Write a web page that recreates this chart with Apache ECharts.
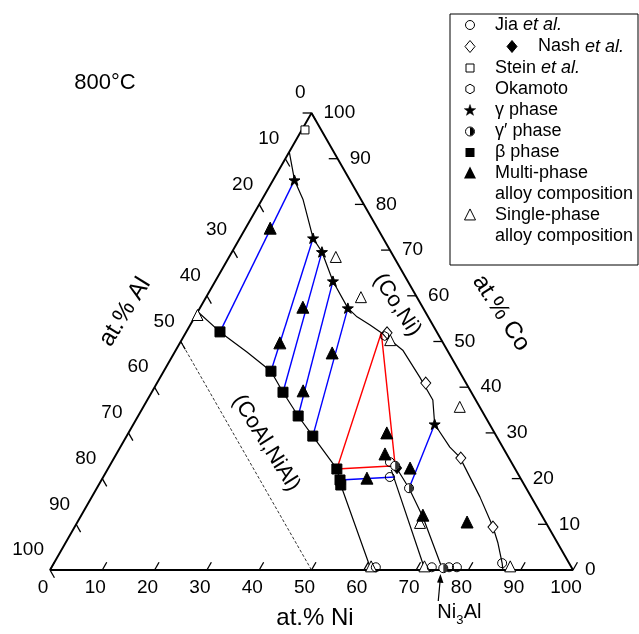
<!DOCTYPE html>
<html>
<head>
<meta charset="utf-8">
<script src="https://cdn.jsdelivr.net/npm/echarts@6/dist/echarts.min.js"></script>
<style>
  html, body { margin: 0; padding: 0; background: #fff; }
  #chart { width: 639px; height: 634px; }
</style>
</head>
<body>
<div id="chart"></div>
<script>
// Co-Ni-Al isothermal section at 800 °C.
// Every composition is written as [at.% Ni, at.% Co]; at.% Al is the remainder.

const tickValues = [0, 10, 20, 30, 40, 50, 60, 70, 80, 90, 100];
const frameVertices = [[0, 0], [100, 0], [0, 100]];
const ni3AlNi = 75;

// phase boundaries
const gammaBoundary = [[0, 91.5], [4.1, 85.3], [7.9, 81.0], [14.0, 72.6], [17.2, 69.6], [22.5, 63.2],
  [28.3, 57.3], [31.0, 55.4], [34.4, 53.6], [37.4, 51.9], [43.4, 48.1], [49.6, 42.2], [54.6, 37.2],
  [57.6, 31.9], [63.0, 26.9], [66.0, 24.7], [74.2, 16.0], [80.0, 9.4], [82.7, 5.9], [85.7, 1.5], [86.6, 0]];
const betaBoundary = [[0, 56.5], [6.45, 52.1], [13.8, 47.7], [20.5, 43.5], [25.1, 38.9], [30.6, 33.7],
  [35.6, 29.3], [42.1, 23.6], [43.8, 22.1], [45.6, 19.7], [46.3, 18.6], [61.4, 0]];
const gammaPrimeLeft = [[54.3, 21.9], [71.7, 0]];
const gammaPrimeRight = [[54.6, 22.8], [59.7, 17.9], [65.5, 11.6], [75.1, 0]];
const equiAl50 = [[0, 50], [50, 0]];

// three-phase triangle beta + gamma + gamma'
const threePhase = [[43.8, 22.1], [37.4, 51.9], [54.6, 22.8]];

// tie lines
const tieLines = [
  [[6.45, 52.1], [4.1, 85.3]],
  [[20.5, 43.5], [14.0, 72.6]],
  [[25.1, 38.9], [17.2, 69.6]],
  [[30.6, 33.7], [22.5, 63.2]],
  [[35.6, 29.3], [28.3, 57.3]],
  [[45.6, 19.7], [55.8, 20.35]],
  [[59.7, 17.9], [57.6, 31.9]]
];

// measured phase compositions
const gammaPhase = [[4.1, 85.3], [14.0, 72.6], [17.2, 69.6], [22.5, 63.2], [28.3, 57.3], [57.6, 31.9]];
const gammaPrimePhase = [[59.7, 17.9], [54.6, 22.8], [75.0, 0.4]];
const betaPhase = [[6.45, 52.1], [20.5, 43.5], [25.1, 38.9], [30.6, 33.7], [35.6, 29.3],
  [43.8, 22.1], [45.6, 19.7], [46.3, 18.6]];

// alloy compositions
const multiPhaseAlloys = [[4.7, 74.8], [19.6, 57.5], [19.1, 49.7], [30.2, 47.5], [28.8, 39.2],
  [49.4, 30.0], [51.35, 25.4], [50.55, 20.1], [57.7, 22.3], [65.3, 12.0], [74.5, 10.5]];
const singlePhaseAlloys = [[20.4, 68.5], [29.6, 59.7], [39.9, 50.3], [60.5, 35.7], [65.6, 10.3],
  [0.3, 55.8], [61.0, 0.8], [71.2, 0.8], [87.6, 0.8]];

// literature data
const jiaData = [[62.0, 0.6], [72.7, 0.6], [76.0, 0.6], [77.5, 0.6], [85.7, 1.5], [53.2, 23.6], [54.8, 20.35]];
const nashOpen = [[38.5, 51.9], [51.4, 40.9], [66.3, 24.5], [80.0, 9.4]];
const nashFilled = [[55.2, 22.3]];
const steinData = [[0.6, 96.3]];
const okamotoData = [[38.4, 51.2]];

// ---------------------------------------------------------------------------
const FONT = '"Liberation Sans", Arial, sans-serif';

// ternary -> cartesian (x along Ni axis, y = Co)
function tern(p) { return [p[0] + p[1] / 2, p[1]]; }
function ternList(list) { return list.map(tern); }

function starPoints(cx, cy, R, r) {
  const pts = [];
  for (let k = 0; k < 10; k++) {
    const a = -Math.PI / 2 + k * Math.PI / 5;
    const rad = k % 2 === 0 ? R : r;
    pts.push([cx + rad * Math.cos(a), cy + rad * Math.sin(a)]);
  }
  return pts;
}
function hexPoints(cx, cy, R) {
  const pts = [];
  for (let k = 0; k < 6; k++) {
    const a = -Math.PI / 2 + k * Math.PI / 3;
    pts.push([cx + R * Math.cos(a), cy + R * Math.sin(a)]);
  }
  return pts;
}
function toPath(pts) {
  return 'path://' + pts.map((p, i) => (i ? 'L' : 'M') + p[0].toFixed(2) + ',' + p[1].toFixed(2)).join(' ') + ' Z';
}
const STAR = toPath(starPoints(50, 50, 50, 20));
const HEX = toPath(hexPoints(50, 50, 50));
const HALF_DISK = 'path://M0,0 A50,50 0 0 1 0,100 Z';

const tickData = [];
[0, 1, 2].forEach(a => tickValues.forEach(v => tickData.push([a, v])));

function renderTick(params, api) {
  const axis = api.value(0), v = api.value(1);
  const L = 1.7;
  let base, end;
  if (axis === 0) { base = [v, 0]; end = [v, L]; }
  else if (axis === 1) { base = [100 - v, v]; end = [100 - v - L, v]; }
  else { base = [0, 100 - v]; end = [L, 100 - v - L]; }
  const p0 = api.coord(tern(base));
  const p1 = api.coord(tern(end));
  let lx, ly, align;
  if (axis === 0) { lx = p0[0] - 7; ly = p0[1] + 18; align = 'center'; }
  else if (axis === 1) { lx = p0[0] + 12; ly = p0[1]; align = 'left'; }
  else { lx = p0[0] - 6; ly = p0[1] - 20; align = 'right'; }
  return {
    type: 'group',
    children: [
      { type: 'line', shape: { x1: p0[0], y1: p0[1], x2: p1[0], y2: p1[1] },
        style: { stroke: '#000', lineWidth: 1.3 } },
      { type: 'text', x: lx, y: ly,
        style: { text: String(v), textAlign: align, textVerticalAlign: 'middle',
                 fill: '#000', font: '19px ' + FONT } }
    ]
  };
}

function lineSeries(data, color, width, type, z) {
  return {
    type: 'line', data: ternList(data), symbol: 'none', clip: false, silent: true, z: z || 3,
    lineStyle: { color: color, width: width, type: type || 'solid' }
  };
}
function markerSeries(data, symbol, size, fill, border, z, extra) {
  return Object.assign({
    type: 'scatter', data: ternList(data), symbol: symbol, symbolSize: size, clip: false, z: z || 10,
    symbolKeepAspect: true,
    itemStyle: { color: fill, borderColor: border, borderWidth: 1, opacity: 1 }
  }, extra || {});
}

const chart = echarts.init(document.getElementById('chart'), null, { renderer: 'canvas' });

const frame = frameVertices.concat([frameVertices[0]]);

chart.setOption({
  animation: false,
  backgroundColor: '#fff',
  grid: { left: 50, top: 113, width: 523, height: 457 },
  xAxis: { type: 'value', min: 0, max: 100, show: false },
  yAxis: { type: 'value', min: 0, max: 100, show: false },
  series: [
    lineSeries(equiAl50, '#000', 0.8, [3, 2], 2),
    lineSeries(gammaBoundary, '#000', 1.2),
    lineSeries(betaBoundary, '#000', 1.2),
    lineSeries(gammaPrimeLeft, '#000', 1.2),
    lineSeries(gammaPrimeRight, '#000', 1.2),
    {
      type: 'lines', coordinateSystem: 'cartesian2d', silent: true, z: 4,
      lineStyle: { color: '#0000ff', width: 1.4, opacity: 1 },
      data: tieLines.map(t => ({ coords: ternList(t) }))
    },
    lineSeries(threePhase.concat([threePhase[0]]), '#ff0000', 1.4, 'solid', 5),
    lineSeries(frame, '#000', 1.9, 'solid', 6),
    { type: 'custom', coordinateSystem: 'cartesian2d', data: tickData, renderItem: renderTick,
      clip: false, silent: true, z: 6 },
    markerSeries(singlePhaseAlloys, 'triangle', 11, '#fff', '#000', 10),
    markerSeries(jiaData, 'circle', 9, 'rgba(255,255,255,0)', '#000', 11),
    markerSeries(nashOpen, 'diamond', [10, 12], '#fff', '#000', 11),
    markerSeries(steinData, 'rect', 8, '#fff', '#000', 11),
    markerSeries(okamotoData, HEX, 9, 'rgba(255,255,255,0)', '#000', 11),
    markerSeries(betaPhase, 'rect', 10, '#000', '#000', 12),
    markerSeries(multiPhaseAlloys, 'triangle', 12, '#000', '#000', 12),
    markerSeries(gammaPhase, STAR, 11, '#000', '#000', 12),
    markerSeries(nashFilled, 'diamond', [9, 11], '#000', '#000', 12),
    markerSeries(gammaPrimePhase, 'circle', 9, '#fff', '#000', 13),
    markerSeries(gammaPrimePhase, HALF_DISK, [4, 8], '#000', '#000', 14,
      { symbolKeepAspect: false, symbolOffset: [2, 0], itemStyle: { color: '#000', borderWidth: 0 } })
  ]
});

// ---------------------------------------------------------------------------
// text annotations, legend and the Ni3Al pointer
const LX = 470, TX = 495;
const rowY = [25, 46.5, 68, 89, 110, 131.5, 152.5, 173, 194, 215, 236];
const textStyle = (t, size, extra) => Object.assign({
  text: t, fill: '#000', font: size + 'px ' + FONT
}, extra || {});
const italic = { i: { fontStyle: 'italic', fontSize: 18, fontFamily: FONT, fill: '#000' } };

function tri(cx, cy, s) { return [[cx, cy - s * 0.55], [cx + s / 2, cy + s * 0.45], [cx - s / 2, cy + s * 0.45]]; }

const legend = [
  { type: 'rect', shape: { x: 450, y: 14, width: 188, height: 251 },
    style: { fill: '#fff', stroke: '#000', lineWidth: 1 }, z: 20 },
  { type: 'circle', shape: { cx: LX, cy: rowY[0], r: 4.5 }, style: { fill: '#fff', stroke: '#000', lineWidth: 1 }, z: 21 },
  { type: 'polygon', shape: { points: [[LX, rowY[1] - 6], [LX + 5, rowY[1]], [LX, rowY[1] + 6], [LX - 5, rowY[1]]] },
    style: { fill: '#fff', stroke: '#000', lineWidth: 1 }, z: 21 },
  { type: 'polygon', shape: { points: [[512, rowY[1] - 6], [517, rowY[1]], [512, rowY[1] + 6], [507, rowY[1]]] },
    style: { fill: '#000', stroke: '#000', lineWidth: 1 }, z: 21 },
  { type: 'rect', shape: { x: LX - 4, y: rowY[2] - 4, width: 8, height: 8 },
    style: { fill: '#fff', stroke: '#000', lineWidth: 1 }, z: 21 },
  { type: 'polygon', shape: { points: hexPoints(LX, rowY[3], 4.8) },
    style: { fill: '#fff', stroke: '#000', lineWidth: 1 }, z: 21 },
  { type: 'polygon', shape: { points: starPoints(LX, rowY[4] + 0.5, 6, 2.4) },
    style: { fill: '#000', stroke: '#000', lineWidth: 0.5 }, z: 21 },
  { type: 'circle', shape: { cx: LX, cy: rowY[5], r: 4.5 }, style: { fill: '#fff', stroke: '#000', lineWidth: 1 }, z: 21 },
  { type: 'sector', shape: { cx: LX, cy: rowY[5], r0: 0, r: 4, startAngle: -Math.PI / 2, endAngle: Math.PI / 2 },
    style: { fill: '#000' }, z: 22 },
  { type: 'rect', shape: { x: LX - 4.5, y: rowY[6] - 4.5, width: 9, height: 9 },
    style: { fill: '#000' }, z: 21 },
  { type: 'polygon', shape: { points: tri(LX, rowY[7], 12) }, style: { fill: '#000' }, z: 21 },
  { type: 'polygon', shape: { points: tri(LX, rowY[9], 11) },
    style: { fill: '#fff', stroke: '#000', lineWidth: 1 }, z: 21 },
  { type: 'text', x: TX, y: rowY[0], z: 21,
    style: textStyle('Jia {i|et al.}', 18, { textVerticalAlign: 'middle', rich: italic }) },
  { type: 'text', x: 538, y: rowY[1], z: 21,
    style: textStyle('Nash {i|et al.}', 18, { textVerticalAlign: 'middle', rich: italic }) },
  { type: 'text', x: TX, y: rowY[2], z: 21,
    style: textStyle('Stein {i|et al.}', 18, { textVerticalAlign: 'middle', rich: italic }) },
  { type: 'text', x: TX, y: rowY[3], z: 21, style: textStyle('Okamoto', 18, { textVerticalAlign: 'middle' }) },
  { type: 'text', x: TX, y: rowY[4], z: 21, style: textStyle('γ phase', 18, { textVerticalAlign: 'middle' }) },
  { type: 'text', x: TX, y: rowY[5], z: 21, style: textStyle('γ′ phase', 18, { textVerticalAlign: 'middle' }) },
  { type: 'text', x: TX, y: rowY[6], z: 21, style: textStyle('β phase', 18, { textVerticalAlign: 'middle' }) },
  { type: 'text', x: TX, y: rowY[7], z: 21, style: textStyle('Multi-phase', 18, { textVerticalAlign: 'middle' }) },
  { type: 'text', x: TX, y: rowY[8], z: 21, style: textStyle('alloy composition', 18, { textVerticalAlign: 'middle' }) },
  { type: 'text', x: TX, y: rowY[9], z: 21, style: textStyle('Single-phase', 18, { textVerticalAlign: 'middle' }) },
  { type: 'text', x: TX, y: rowY[10], z: 21, style: textStyle('alloy composition', 18, { textVerticalAlign: 'middle' }) }
];

const deg = Math.PI / 180;
const labels = [
  { type: 'text', x: 105, y: 83, style: textStyle('800°C', 22, { textAlign: 'center', textVerticalAlign: 'middle' }) },
  { type: 'text', x: 315, y: 618, style: textStyle('at.% Ni', 24, { textAlign: 'center', textVerticalAlign: 'middle' }) },
  { type: 'text', x: 125, y: 312, rotation: 58 * deg,
    style: textStyle('at.% Al', 24, { textAlign: 'center', textVerticalAlign: 'middle' }) },
  { type: 'text', x: 501, y: 313, rotation: -57 * deg,
    style: textStyle('at.% Co', 24, { textAlign: 'center', textVerticalAlign: 'middle' }) },
  { type: 'text', x: 397, y: 305, rotation: -57 * deg,
    style: textStyle('(Co,Ni)', 22, { textAlign: 'center', textVerticalAlign: 'middle' }) },
  { type: 'text', x: 266, y: 443, rotation: -58 * deg,
    style: textStyle('(CoAl,NiAl)', 22, { textAlign: 'center', textVerticalAlign: 'middle' }) }
];

// pointer to the Ni3Al composition on the Ni axis
const tip = chart.convertToPixel({ gridIndex: 0 }, tern([ni3AlNi, 0]));
const pointer = [
  { type: 'line', shape: { x1: tip[0] - 4, y1: tip[1] + 31, x2: tip[0] - 2, y2: tip[1] + 9 },
    style: { stroke: '#000', lineWidth: 1.2 } },
  { type: 'polygon', shape: { points: [[tip[0] - 1.8, tip[1] + 4], [tip[0] + 1.2, tip[1] + 13], [tip[0] - 5.2, tip[1] + 12.5]] },
    style: { fill: '#000' } },
  { type: 'text', x: tip[0] - 5, y: tip[1] + 42,
    style: textStyle('Ni', 20, { textAlign: 'left', textVerticalAlign: 'middle' }) },
  { type: 'text', x: tip[0] + 14, y: tip[1] + 50,
    style: textStyle('3', 13, { textAlign: 'left', textVerticalAlign: 'middle' }) },
  { type: 'text', x: tip[0] + 21.5, y: tip[1] + 42,
    style: textStyle('Al', 20, { textAlign: 'left', textVerticalAlign: 'middle' }) }
];

chart.setOption({ graphic: { elements: legend.concat(labels, pointer) } });
</script>
</body>
</html>
